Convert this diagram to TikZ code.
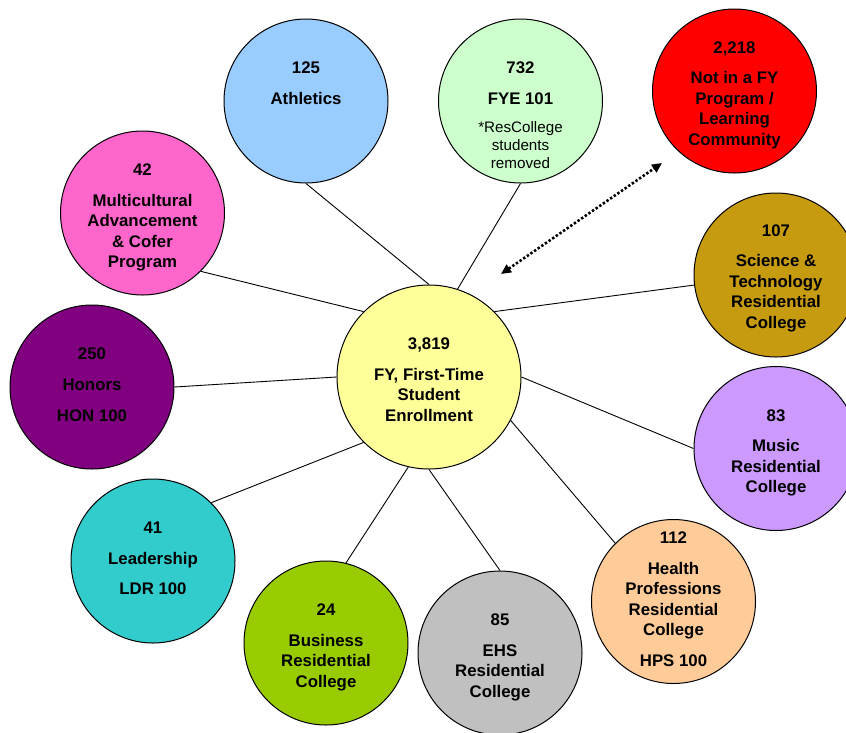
\documentclass[tikz,border=0pt]{standalone}
\usepackage{fontspec}
\setmainfont{Liberation Sans}
\usetikzlibrary{calc,arrows.meta}
\definecolor{cAth}{HTML}{99CCFF}
\definecolor{cFye}{HTML}{CCFFCC}
\definecolor{cRed}{HTML}{FF0000}
\definecolor{cMul}{HTML}{FF66CC}
\definecolor{cSci}{RGB}{198,155,16}
\definecolor{cHon}{HTML}{800080}
\definecolor{cCen}{HTML}{FFFF99}
\definecolor{cMus}{HTML}{CC99FF}
\definecolor{cLea}{HTML}{33CCCC}
\definecolor{cHea}{HTML}{FFCC99}
\definecolor{cBus}{HTML}{99CC00}
\definecolor{cEhs}{HTML}{C0C0C0}
\newcommand\bubtext[1]{\begin{tabular}[t]{@{}c@{}}#1\end{tabular}}
\begin{document}
\begin{tikzpicture}[x=1pt,y=-1pt,
  bubble/.style={circle,draw=black,line width=1pt,minimum size=164pt,inner sep=0pt},
  hub/.style={bubble,minimum size=184pt},
  lbl/.style={anchor=base,inner sep=0pt,font=\fontsize{16.8}{20.5}\selectfont\bfseries},
  note/.style={anchor=base,inner sep=0pt,font=\fontsize{15.2}{18}\selectfont},
  link/.style={draw=black,line width=0.9pt},
  flow/.style={line width=2.6pt,dash pattern=on 2.4pt off 2pt,
    {Triangle[length=10pt,width=9pt]}-{Triangle[length=10pt,width=9pt]}}
]
\useasboundingbox (0,0) rectangle (846,732);

% circles
\node[bubble,fill=cAth] (ath) at (306,101) {};
\node[bubble,fill=cFye] (fye) at (520.5,101) {};
\node[bubble,fill=cRed] (red) at (734.5,91) {};
\node[bubble,fill=cMul] (mul) at (142.5,213) {};
\node[bubble,fill=cSci] (sci) at (776,275) {};
\node[bubble,fill=cHon] (hon) at (92,387) {};
\node[hub,fill=cCen] (cen) at (429,377) {};
\node[bubble,fill=cMus] (mus) at (776,448.5) {};
\node[bubble,fill=cLea] (lea) at (153,561) {};
\node[bubble,fill=cHea] (hea) at (673.5,601.5) {};
\node[bubble,fill=cBus] (bus) at (326,643) {};
\node[bubble,fill=cEhs] (ehs) at (500,653) {};

% connectors
\draw[link] (ath.-90) -- (cen.90);
\draw[link] (fye.-90) -- (cen.72);
\draw[link] (mul.-45) -- (cen.135);
\draw[link] (sci.187) -- (cen.45);
\draw[link] (hon.0) -- (cen.180);
\draw[link] (mus.180) -- (cen.0);
\draw[link] (lea.45) -- (cen.225);
\draw[link] (bus.76) -- (cen.-103);
\draw[link] (hea.135) -- (cen.-28);
\draw[link] (ehs.90) -- (cen.-90);

% dotted double arrow
\coordinate (arrS) at (501,274);
\coordinate (arrE) at (662,163);
\draw[flow] (arrS) -- (arrE);

% texts
\node[lbl] (athT) at ($(ath)+(0,-27.7)$) {\bubtext{125\\[10.5pt]Athletics}};
\node[lbl] (fyeT) at ($(fye)+(0,-27.7)$) {\bubtext{732\\[10.5pt]FYE 101}};
\node[note] (fyeN) at ($(fye)+(0,31.3)$) {\bubtext{*ResCollege\\students\\removed}};
\node[lbl] (redT) at ($(red)+(0,-37.7)$) {\bubtext{2,218\\[10pt]Not in a FY\\Program /\\Learning\\Community}};
\node[lbl] (mulT) at ($(mul)+(0,-38)$) {\bubtext{42\\[10.5pt]Multicultural\\Advancement\\\& Cofer\\Program}};
\node[lbl] (sciT) at ($(sci)+(0,-38.3)$) {\bubtext{107\\[9.5pt]Science \&\\Technology\\Residential\\College}};
\node[lbl] (honT) at ($(hon)+(0,-27.7)$) {\bubtext{250\\[10.5pt]Honors\\[10.8pt]HON 100}};
\node[lbl] (cenT) at ($(cen)+(0,-28)$) {\bubtext{3,819\\[10.5pt]FY, First-Time\\Student\\Enrollment}};
\node[lbl] (musT) at ($(mus)+(0,-27.5)$) {\bubtext{83\\[10pt]Music\\Residential\\College}};
\node[lbl] (leaT) at ($(lea)+(0,-27.7)$) {\bubtext{41\\[10.5pt]Leadership\\[9.2pt]LDR 100}};
\node[lbl] (heaT) at ($(hea)+(0,-58.2)$) {\bubtext{112\\[10.2pt]Health\\Professions\\Residential\\College\\[10.5pt]HPS 100}};
\node[lbl] (busT) at ($(bus)+(0,-27.7)$) {\bubtext{24\\[10.2pt]Business\\Residential\\College}};
\node[lbl] (ehsT) at ($(ehs)+(0,-28)$) {\bubtext{85\\[10.5pt]EHS\\Residential\\College}};
\end{tikzpicture}
\end{document}
